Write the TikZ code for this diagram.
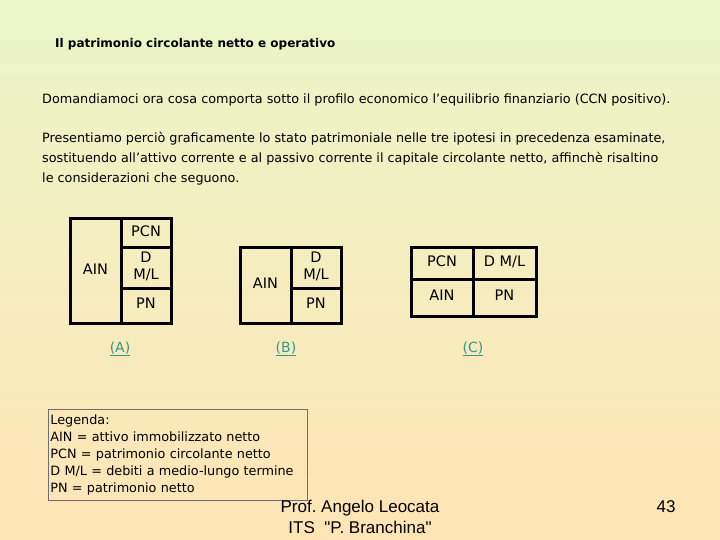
\documentclass[tikz,border=0pt]{standalone}
\usepackage{fontspec}
\setmainfont{DejaVu Sans}
\newfontfamily\footfont{Liberation Sans}
\usetikzlibrary{positioning}
\definecolor{BgTop}{HTML}{EAF6C9}
\definecolor{BgBottom}{HTML}{FFE4B5}
\definecolor{Link}{HTML}{339988}
\definecolor{Frame}{HTML}{6E6E78}

\tikzset{
	cell/.style={
		draw=black,
		line width=3pt,
		anchor=north west,
		inner sep=0pt,
		outer sep=0pt,
		align=center,
		text depth=4pt,
		font=\fontsize{14.5}{17}\selectfont
	},
	caselabel/.style={
		text=Link,
		font=\fontsize{14}{16}\selectfont
	}
}

\begin{document}
\begin{tikzpicture}[x=1pt,y=-1pt]
			% sfondo
			\shade[top color=BgTop, bottom color=BgBottom] (0,0) rectangle (720,540);
			\useasboundingbox (0,0) rectangle (720,540);
			
			\node[anchor=west, inner sep=0pt, font=\bfseries\fontsize{12}{14}\selectfont] (titolo) at (55,44)
				{Il patrimonio circolante netto e operativo};
			
			\node[anchor=west, inner sep=0pt, font=\fontsize{12.8}{14}\selectfont] (domanda) at (42,100)
				{Domandiamoci ora cosa comporta sotto il profilo economico l'equilibrio finanziario (CCN positivo).};
			
			\node[
			anchor=north west,
			align=left,
			inner sep=0pt,
			font=\fontsize{12.8}{20}\selectfont
			] (testo) at (42,132) {
				Presentiamo perciò graficamente lo stato patrimoniale nelle tre ipotesi in precedenza esaminate,\\
				sostituendo all'attivo corrente e al passivo corrente il capitale circolante netto, affinchè risaltino\\
				le considerazioni che seguono.
			};
			
			% ipotesi A
			\node[cell, minimum width=51pt, minimum height=104pt] (ainA) at (70,219) {AIN};
			\node[cell, minimum width=50pt, minimum height=28pt] (pcnA) at (ainA.north east) {PCN};
			\node[cell, minimum width=50pt, minimum height=41pt] (dmlA) at (pcnA.south west) {D\\M/L};
			\node[cell, minimum width=50pt, minimum height=35pt] (pnA) at (dmlA.south west) {PN};
			
			% ipotesi B
			\node[cell, minimum width=51pt, minimum height=76pt] (ainB) at (240,247) {AIN};
			\node[cell, minimum width=50pt, minimum height=41pt] (dmlB) at (ainB.north east) {D\\M/L};
			\node[cell, minimum width=50pt, minimum height=35pt] (pnB) at (dmlB.south west) {PN};
			
			% ipotesi C
			\node[cell, minimum width=62pt, minimum height=32pt] (pcnC) at (411,247) {PCN};
			\node[cell, minimum width=63pt, minimum height=32pt] (dmlC) at (pcnC.north east) {D M/L};
			\node[cell, minimum width=62pt, minimum height=37pt] (ainC) at (pcnC.south west) {AIN};
			\node[cell, minimum width=63pt, minimum height=37pt] (pnC) at (ainC.north east) {PN};
			
			\node[caselabel] (capA) at (120,349) {\underline{(A)}};
			\node[caselabel] (capB) at (286,349) {\underline{(B)}};
			\node[caselabel] (capC) at (473,349) {\underline{(C)}};
			
			% legenda
			\node[
			draw=Frame,
			line width=0.8pt,
			anchor=north west,
			minimum width=259pt,
			minimum height=91pt,
			text width=255pt,
			inner sep=2pt,
			align=left,
			font=\fontsize{12.8}{17}\selectfont
			] (legenda) at (48,409) {
				Legenda:\\
				AIN = attivo immobilizzato netto\\
				PCN = patrimonio circolante netto\\
				D M/L = debiti a medio-lungo termine\\
				PN = patrimonio netto
			};
			
			\node[align=center, font=\footfont\fontsize{17}{21}\selectfont] (autore) at (360,517)
				{Prof.\ Angelo Leocata\\ITS\ \ "P. Branchina"};
			\node[font=\footfont\fontsize{17}{20}\selectfont] (pagina) at (666,507) {43};
		\end{tikzpicture}
\end{document}
